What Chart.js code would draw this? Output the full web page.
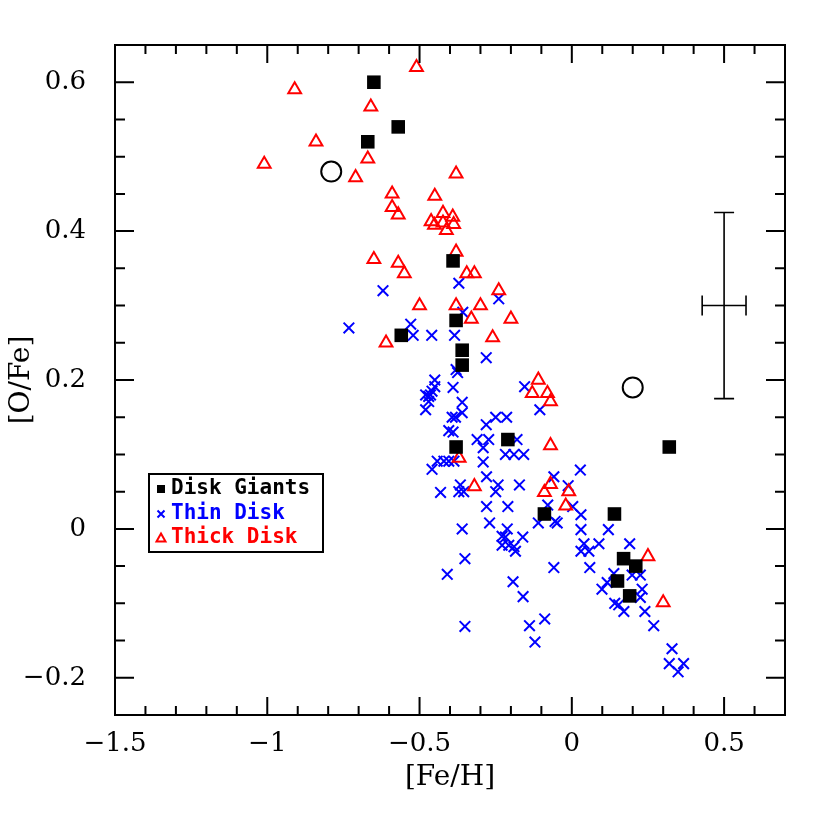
<!DOCTYPE html>
<html>
<head>
<meta charset="utf-8">
<script src="https://cdn.jsdelivr.net/npm/chart.js@4/dist/chart.umd.min.js"></script>
<style>
  html, body { margin: 0; padding: 0; background: #fff; }
  #wrap { width: 830px; height: 830px; }
</style>
</head>
<body>
<div id="wrap"><canvas id="myChart"></canvas></div>
<script>
// disk giants (filled squares)
var giantsFe = [-0.65, -0.57, -0.67, -0.39, -0.38, -0.56, -0.36, -0.36, -0.21, -0.38, 0.32, -0.09, 0.14, 0.17, 0.21, 0.15, 0.19];
var giantsO  = [0.60, 0.54, 0.52, 0.36, 0.28, 0.26, 0.24, 0.22, 0.12, 0.11, 0.11, 0.02, 0.02, -0.04, -0.05, -0.07, -0.09];

// two open circles (not in legend)
var openFe = [-0.79, 0.20];
var openO  = [0.48, 0.19];

// thick disk (red triangles)
var thickFe = [-0.51, -0.91, -0.66, -0.84, -0.67, -1.01, -0.71, -0.59, -0.45, -0.59, -0.57,
               -0.423, -0.391, -0.462, -0.451, -0.423, -0.388, -0.412, -0.38,
               -0.65, -0.57, -0.55, -0.38, -0.345, -0.32, -0.24, -0.50, -0.38, -0.30, -0.33, -0.20,
               -0.26, -0.61, -0.11, -0.13, -0.08, -0.07, -0.07, -0.37, -0.32, -0.07, -0.09, -0.01,
               -0.02, 0.25, 0.30];
var thickO  = [0.62, 0.59, 0.567, 0.52, 0.497, 0.49, 0.472, 0.45, 0.447, 0.432, 0.422,
               0.424, 0.419, 0.413, 0.408, 0.411, 0.409, 0.401, 0.477,
               0.362, 0.357, 0.343, 0.372, 0.343, 0.343, 0.32, 0.30, 0.30, 0.30, 0.282, 0.282,
               0.257, 0.25, 0.20, 0.182, 0.182, 0.171, 0.112, 0.095, 0.057, 0.06, 0.049, 0.05,
               0.031, -0.037, -0.099];

// thin disk (blue crosses)
var thinFe = [-0.371, -0.62, -0.24, -0.358, -0.732, -0.529, -0.521, -0.46, -0.385, -0.281,
              -0.38, -0.375, -0.45, -0.45, -0.39, -0.48, -0.464, -0.47, -0.48, -0.36,
              -0.36, -0.393, -0.382, -0.155, -0.105, -0.281, -0.25, -0.214, -0.404, -0.39,
              -0.311, -0.273, -0.291, -0.18, -0.218, -0.19, -0.158, -0.291, -0.459, -0.442,
              -0.42, -0.404, -0.387, -0.28, -0.059, 0.028, -0.431, -0.366, -0.371, -0.355,
              -0.242, -0.25, -0.172, -0.012, -0.28, -0.21, -0.079, 0.003, -0.27, -0.11,
              -0.055, -0.048, 0.03, 0.03, 0.12, -0.36, -0.212, -0.229, -0.218, -0.161,
              -0.229, -0.207, -0.19, -0.185, 0.04, 0.03, 0.056, 0.089, 0.19, -0.351,
              -0.059, 0.059, 0.138, 0.198, 0.225, 0.116, 0.099, 0.231, 0.225, 0.141,
              0.154, 0.171, -0.16, 0.24, 0.269, -0.089, -0.139, -0.121, 0.329, 0.32,
              0.367, 0.349, -0.409, -0.193, -0.351, -0.459, -0.47];
var thinO  = [0.33, 0.32, 0.309, 0.291, 0.27, 0.275, 0.26, 0.26, 0.26, 0.23,
              0.214, 0.21, 0.20, 0.191, 0.19, 0.18, 0.18, 0.171, 0.16, 0.17,
              0.156, 0.15, 0.15, 0.191, 0.16, 0.14, 0.15, 0.15, 0.132, 0.13,
              0.12, 0.12, 0.109, 0.12, 0.10, 0.10, 0.10, 0.09, 0.08, 0.091,
              0.091, 0.091, 0.091, 0.07, 0.07, 0.079, 0.049, 0.059, 0.05, 0.05,
              0.059, 0.05, 0.059, 0.058, 0.03, 0.03, 0.032, 0.03, 0.008, 0.008,
              0.01, 0.008, 0.019, -0.001, -0.001, 0.0, 0.0, -0.01, -0.011, -0.011,
              -0.022, -0.022, -0.024, -0.03, -0.02, -0.03, -0.03, -0.02, -0.02, -0.04,
              -0.052, -0.052, -0.06, -0.062, -0.062, -0.072, -0.081, -0.081, -0.092, -0.10,
              -0.102, -0.111, -0.091, -0.111, -0.13, -0.121, -0.13, -0.152, -0.161, -0.181,
              -0.181, -0.192, -0.061, -0.071, -0.131, 0.185, 0.178];

// typical error bar
var errFe = 0.5, errO = 0.3, errDFe = 0.072, errDO = 0.125;

// axes
var xTicks = [-1.5, -1, -0.5, 0, 0.5];
var yTicks = [-0.2, 0, 0.2, 0.4, 0.6];
var xMin = -1.5, xMax = 0.7, yMin = -0.25, yMax = 0.65;

var legendItems = ['Disk Giants', 'Thin Disk', 'Thick Disk'];

function pts(xs, ys) {
    var out = [];
    for (var i = 0; i < xs.length; i++) out.push({x: xs[i], y: ys[i]});
    return out;
}
function minus(v) {
    return String(v).replace('-', '\u2212');
}

var serif = '"DejaVu Serif", serif';

// inward ticks on all four sides, plus the frame
var frameTicks = {
    id: 'frameTicks',
    afterDraw: function(chart) {
        var ctx = chart.ctx, a = chart.chartArea;
        var sx = chart.scales.x, sy = chart.scales.y;
        ctx.save();
        ctx.strokeStyle = '#000';
        ctx.lineWidth = 2;
        ctx.strokeRect(a.left, a.top, a.right - a.left, a.bottom - a.top);
        ctx.beginPath();
        for (var i = 0; i <= 22; i++) {
            var v = xMin + i * 0.1;
            var px = sx.getPixelForValue(v);
            var len = (Math.abs(v * 2 - Math.round(v * 2)) < 1e-6) ? 18 : 9;
            ctx.moveTo(px, a.bottom); ctx.lineTo(px, a.bottom - len);
            ctx.moveTo(px, a.top); ctx.lineTo(px, a.top + len);
        }
        for (var j = 0; j <= 18; j++) {
            var w = yMin + j * 0.05;
            var py = sy.getPixelForValue(w);
            var ln = (Math.abs(w * 5 - Math.round(w * 5)) < 1e-6) ? 19 : 10;
            ctx.moveTo(a.left, py); ctx.lineTo(a.left + ln, py);
            ctx.moveTo(a.right, py); ctx.lineTo(a.right - ln, py);
        }
        ctx.stroke();
        ctx.restore();
    }
};

// error bar and legend box
var extras = {
    id: 'extras',
    afterDatasetsDraw: function(chart) {
        var ctx = chart.ctx;
        var sx = chart.scales.x, sy = chart.scales.y;
        var cx = sx.getPixelForValue(errFe), cy = sy.getPixelForValue(errO);
        var x0 = sx.getPixelForValue(errFe - errDFe), x1 = sx.getPixelForValue(errFe + errDFe);
        var y0 = sy.getPixelForValue(errO + errDO), y1 = sy.getPixelForValue(errO - errDO);
        ctx.save();
        ctx.strokeStyle = '#000';
        ctx.lineWidth = 1.6;
        ctx.beginPath();
        ctx.moveTo(cx, y0); ctx.lineTo(cx, y1);
        ctx.moveTo(cx - 10, y0); ctx.lineTo(cx + 10, y0);
        ctx.moveTo(cx - 10, y1); ctx.lineTo(cx + 10, y1);
        ctx.moveTo(x0, cy); ctx.lineTo(x1, cy);
        ctx.moveTo(x0, cy - 10); ctx.lineTo(x0, cy + 10);
        ctx.moveTo(x1, cy - 10); ctx.lineTo(x1, cy + 10);
        ctx.stroke();

        // legend
        ctx.lineWidth = 2;
        ctx.fillStyle = '#fff';
        ctx.fillRect(149, 474, 174, 78);
        ctx.strokeRect(149, 474, 174, 78);
        var rows = [488, 513, 537];
        var cols = ['#000', '#0000ff', '#ff0000'];
        ctx.font = 'bold 21px "DejaVu Sans Mono", monospace';
        ctx.textBaseline = 'middle';
        ctx.textAlign = 'left';
        for (var k = 0; k < legendItems.length; k++) {
            ctx.fillStyle = cols[k];
            ctx.strokeStyle = cols[k];
            ctx.fillText(legendItems[k], 171, rows[k] + 1);
            var mx = 161, my = rows[k] + 1;
            if (k === 0) {
                ctx.fillRect(mx - 4, my - 4, 8, 8);
            } else if (k === 1) {
                ctx.beginPath();
                ctx.moveTo(mx - 3.5, my - 3.5); ctx.lineTo(mx + 3.5, my + 3.5);
                ctx.moveTo(mx + 3.5, my - 3.5); ctx.lineTo(mx - 3.5, my + 3.5);
                ctx.stroke();
            } else {
                ctx.beginPath();
                ctx.moveTo(mx, my - 4.5); ctx.lineTo(mx + 4.5, my + 3.5); ctx.lineTo(mx - 4.5, my + 3.5);
                ctx.closePath();
                ctx.stroke();
            }
        }
        ctx.restore();
    }
};

var ctx = document.getElementById('myChart').getContext('2d');
var myChart = new Chart(ctx, {
    type: 'scatter',
    data: {
        datasets: [{
            label: 'Disk Giants',
            data: pts(giantsFe, giantsO),
            pointStyle: 'rect',
            pointRadius: 9.6,
            backgroundColor: '#000',
            borderWidth: 0
        }, {
            label: 'Thick Disk',
            data: pts(thickFe, thickO),
            pointStyle: 'triangle',
            pointRadius: 7.4,
            backgroundColor: 'rgba(0,0,0,0)',
            borderColor: '#ff0000',
            borderWidth: 2
        }, {
            label: 'Thin Disk',
            data: pts(thinFe, thinO),
            pointStyle: 'crossRot',
            pointRadius: 7.5,
            borderColor: '#0000ff',
            borderWidth: 2
        }, {
            label: 'open',
            data: pts(openFe, openO),
            pointStyle: 'circle',
            pointRadius: 10,
            backgroundColor: 'rgba(0,0,0,0)',
            borderColor: '#000',
            borderWidth: 2
        }]
    },
    options: {
        responsive: true,
        maintainAspectRatio: false,
        animation: false,
        layout: { padding: { top: 45, right: 45, left: 0, bottom: 0 } },
        plugins: {
            legend: { display: false },
            tooltip: { enabled: false }
        },
        scales: {
            x: {
                type: 'linear',
                min: xMin,
                max: xMax,
                afterFit: function(s) { s.height = 115; },
                afterBuildTicks: function(s) { s.ticks = xTicks.map(function(v) { return {value: v}; }); },
                grid: { display: false, drawTicks: false },
                border: { display: false },
                ticks: {
                    padding: 14,
                    color: '#000',
                    font: { family: serif, size: 26 },
                    maxRotation: 0,
                    callback: function(v) { return minus(v); }
                },
                title: {
                    display: true,
                    text: '[Fe/H]',
                    color: '#000',
                    font: { family: serif, size: 28 },
                    padding: { top: 0, bottom: 35 }
                }
            },
            y: {
                type: 'linear',
                min: yMin,
                max: yMax,
                afterFit: function(s) { s.width = 115; },
                afterBuildTicks: function(s) { s.ticks = yTicks.map(function(v) { return {value: v}; }); },
                grid: { display: false, drawTicks: false },
                border: { display: false },
                ticks: {
                    padding: 29,
                    color: '#000',
                    font: { family: serif, size: 26 },
                    callback: function(v) { return minus(v); }
                },
                title: {
                    display: true,
                    text: '[O/Fe]',
                    color: '#000',
                    font: { family: serif, size: 28 },
                    padding: { top: 5, bottom: 0 }
                }
            }
        }
    },
    plugins: [frameTicks, extras]
});
</script>
</body>
</html>
